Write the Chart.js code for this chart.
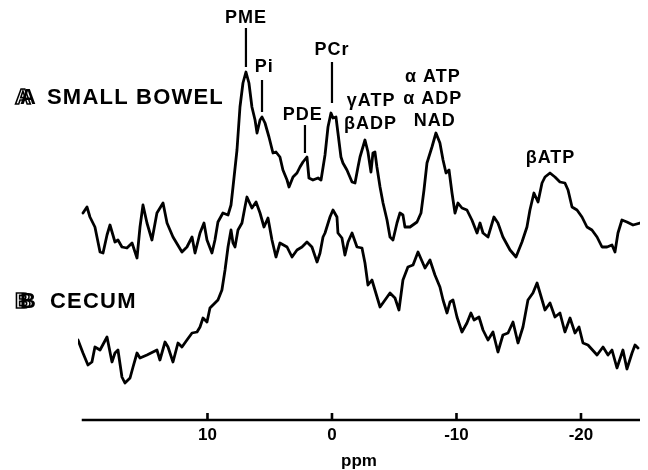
<!DOCTYPE html>
<html lang="en">
<head>
<meta charset="UTF-8">
<title>31P spectra: small bowel and cecum</title>
<script src="https://cdn.jsdelivr.net/npm/chart.js@4.4.0/dist/chart.umd.min.js"></script>
<style>
  body { margin: 0; background: #fff; }
  canvas { display: block; }
</style>
</head>
<body>
<canvas id="spectrum" width="648" height="470"></canvas>
<script>
// chemical shift (ppm) and signal height for trace A, small bowel
const ppmA = [
  20.00, 19.68, 19.44, 19.04, 18.63, 18.39, 18.07, 17.83, 17.43, 17.19,
  16.87, 16.47, 16.06, 15.66, 15.42, 15.18, 14.86, 14.46, 14.06, 13.57,
  13.25, 12.77, 12.05, 11.65, 11.24, 11.00, 10.60, 10.28, 10.04, 9.64,
  9.40, 9.16, 8.76, 8.35, 8.11, 7.95, 7.63, 7.39, 7.15, 6.91,
  6.67, 6.43, 6.18, 6.02, 5.78, 5.62, 5.38, 5.06, 4.74, 4.50,
  4.18, 3.94, 3.61, 3.45, 3.13, 2.81, 2.57, 2.33, 2.01, 1.85,
  1.53, 1.12, 0.88, 0.56, 0.32, 0.08, -0.08, -0.32, -0.48, -0.72,
  -0.88, -1.20, -1.61, -1.85, -2.09, -2.25, -2.65, -2.89, -3.13, -3.29,
  -3.45, -3.61, -3.86, -4.10, -4.42, -4.66, -4.90, -5.22, -5.46, -5.70,
  -5.86, -6.27, -6.83, -7.15, -7.39, -7.63, -8.03, -8.35, -8.67, -8.92,
  -9.16, -9.40, -9.64, -9.88, -10.12, -10.44, -10.84, -11.24, -11.65, -11.89,
  -12.13, -12.53, -13.01, -13.33, -13.73, -14.30, -14.78, -15.26, -15.66, -15.90,
  -16.22, -16.55, -16.87, -17.11, -17.51, -17.91, -18.31, -18.71, -18.96, -19.28,
  -19.68, -20.08, -20.48, -20.88, -21.29, -21.69, -22.09, -22.49, -22.73, -22.97,
  -23.29, -23.69, -24.18, -24.74
];
const smallBowel = [
  207, 213, 203, 193, 168, 167, 185, 195, 178, 180,
  173, 172, 177, 162, 193, 215, 197, 180, 207, 217,
  197, 183, 168, 173, 183, 167, 187, 197, 180, 167,
  180, 198, 207, 205, 215, 233, 270, 313, 337, 348,
  337, 313, 300, 287, 300, 303, 297, 283, 267, 268,
  263, 250, 240, 233, 243, 247, 253, 258, 263, 242,
  240, 242, 240, 265, 293, 307, 302, 303, 287, 263,
  257, 250, 238, 237, 253, 263, 280, 268, 248, 267,
  268, 253, 233, 217, 200, 183, 180, 197, 207, 205,
  193, 193, 198, 207, 230, 257, 273, 287, 277, 260,
  247, 250, 227, 207, 217, 212, 210, 200, 187, 197,
  187, 183, 203, 197, 183, 170, 163, 178, 193, 210,
  227, 218, 237, 243, 247, 243, 238, 237, 230, 213,
  210, 203, 193, 190, 183, 173, 173, 175, 168, 187,
  200, 198, 195, 197
];

// trace B, cecum
const ppmB = [
  20.40, 20.00, 19.60, 19.28, 19.04, 18.63, 18.07, 17.67, 17.43, 17.19,
  16.87, 16.63, 16.22, 15.98, 15.66, 15.42, 14.86, 14.38, 14.06, 13.82,
  13.41, 13.17, 12.77, 12.37, 12.05, 11.65, 11.24, 10.84, 10.60, 10.36,
  10.04, 9.80, 9.56, 9.16, 8.84, 8.59, 8.35, 8.11, 7.95, 7.79,
  7.55, 7.23, 6.99, 6.83, 6.43, 6.10, 5.78, 5.46, 5.14, 4.82,
  4.50, 4.18, 3.61, 3.21, 2.81, 2.41, 2.01, 1.61, 1.20, 0.96,
  0.72, 0.56, 0.16, -0.08, -0.40, -0.48, -0.80, -1.04, -1.29, -1.61,
  -2.01, -2.41, -2.65, -2.89, -3.21, -3.45, -3.86, -4.26, -4.66, -5.06,
  -5.38, -5.70, -6.10, -6.51, -6.91, -7.47, -7.87, -8.27, -8.67, -8.92,
  -9.24, -9.48, -9.72, -10.04, -10.44, -10.84, -11.16, -11.41, -11.81, -12.13,
  -12.53, -12.93, -13.33, -13.73, -14.14, -14.54, -14.94, -15.34, -15.74, -16.14,
  -16.47, -16.71, -17.11, -17.51, -17.91, -18.31, -18.71, -19.12, -19.52, -19.84,
  -20.16, -20.56, -21.29, -21.77, -22.17, -22.49, -22.89, -23.37, -23.69, -24.10,
  -24.34, -24.58
];
const cecum = [
  80, 67, 55, 58, 73, 70, 83, 58, 67, 70,
  43, 37, 42, 53, 67, 62, 65, 68, 70, 60,
  78, 73, 58, 77, 73, 80, 87, 88, 93, 102,
  98, 112, 115, 120, 130, 150, 173, 190, 177, 173,
  190, 197, 213, 223, 212, 218, 207, 193, 202, 180,
  163, 177, 173, 163, 170, 173, 178, 173, 158, 167,
  183, 187, 203, 210, 203, 187, 182, 165, 178, 187,
  173, 172, 157, 135, 140, 130, 113, 120, 127, 122,
  110, 140, 153, 155, 168, 152, 160, 145, 133, 120,
  107, 118, 120, 103, 88, 97, 107, 100, 103, 90,
  80, 88, 68, 85, 87, 98, 77, 93, 120, 127,
  137, 127, 110, 117, 103, 107, 88, 102, 87, 93,
  77, 75, 65, 73, 65, 70, 52, 70, 51, 67,
  75, 72
];

// ppm axis
const tickValues = [10, 0, -10, -20];
const axisFrom = 20.1;
const axisTo = -24.74;

// peak assignments over trace A: label lines, centre ppm, text height
const peakText = ['PME', 'Pi', 'PDE', 'PCr', 'γATP', 'βADP', 'α ATP', 'α ADP', 'NAD', 'βATP'];
const peakPpm = [6.91, 5.45, 2.35, 0.0, -3.15, -3.1, -8.1, -8.1, -8.25, -17.55];
const peakY = [402, 353, 305, 370, 319, 296, 343, 321, 299, 262];

// leader lines from label to peak
const leaderPpm = [6.91, 5.62, 2.17, 0.0];
const leaderTop = [392, 340, 295, 358];
const leaderBottom = [353, 308, 267, 317];

// trace names on the left
const traceLetters = ['A', 'B'];
const traceNames = ['SMALL BOWEL', 'CECUM'];
const traceNameY = [322, 118];

const FONT = '"Liberation Sans", Arial, sans-serif';

const annotate = {
  id: 'annotate',
  afterDatasetsDraw(chart) {
    const { ctx, scales: { x, y } } = chart;
    const y0 = y.getPixelForValue(0);
    ctx.save();
    ctx.strokeStyle = '#000';
    ctx.fillStyle = '#000';
    ctx.lineCap = 'butt';

    // baseline with short upward ticks
    ctx.lineWidth = 2.6;
    ctx.beginPath();
    ctx.moveTo(x.getPixelForValue(axisFrom), y0);
    ctx.lineTo(x.getPixelForValue(axisTo), y0);
    tickValues.forEach(v => {
      const px = x.getPixelForValue(v);
      ctx.moveTo(px, y0);
      ctx.lineTo(px, y0 - 7);
    });
    ctx.stroke();

    // leaders
    ctx.lineWidth = 2.2;
    ctx.beginPath();
    leaderPpm.forEach((v, i) => {
      const px = x.getPixelForValue(v);
      ctx.moveTo(px, y.getPixelForValue(leaderTop[i]));
      ctx.lineTo(px, y.getPixelForValue(leaderBottom[i]));
    });
    ctx.stroke();

    // peak names
    ctx.font = 'bold 18px ' + FONT;
    ctx.letterSpacing = '1px';
    ctx.textAlign = 'center';
    ctx.textBaseline = 'middle';
    peakText.forEach((t, i) => {
      ctx.fillText(t, x.getPixelForValue(peakPpm[i]), y.getPixelForValue(peakY[i]));
    });

    // trace names, letter drawn with an outlined double
    ctx.font = 'bold 22px ' + FONT;
    ctx.letterSpacing = '1.2px';
    ctx.textAlign = 'left';
    ctx.lineWidth = 1.6;
    traceNames.forEach((name, i) => {
      const py = y.getPixelForValue(traceNameY[i]);
      ctx.strokeText(traceLetters[i], 15, py);
      ctx.fillText(traceLetters[i], 20, py);
      ctx.fillText(name, i === 0 ? 47 : 50, py);
    });
    ctx.restore();
  }
};

function trace(xs, ys) {
  return xs.map((v, i) => ({ x: v, y: ys[i] }));
}

const lineStyle = {
  borderColor: '#000',
  borderWidth: 2.8,
  borderJoinStyle: 'round',
  borderCapStyle: 'round',
  pointRadius: 0,
  tension: 0,
  fill: false
};

new Chart(document.getElementById('spectrum'), {
  type: 'line',
  data: {
    datasets: [
      Object.assign({ label: 'Small bowel', data: trace(ppmA, smallBowel) }, lineStyle),
      Object.assign({ label: 'Cecum', data: trace(ppmB, cecum) }, lineStyle)
    ]
  },
  options: {
    responsive: false,
    animation: false,
    layout: { padding: { left: 78, right: 8, top: 0, bottom: 0 } },
    plugins: {
      legend: { display: false },
      tooltip: { enabled: false }
    },
    scales: {
      x: {
        type: 'linear',
        reverse: true,
        min: axisTo,
        max: 20.4,
        grid: { display: false, drawTicks: false },
        border: { display: false },
        afterBuildTicks: s => { s.ticks = tickValues.map(v => ({ value: v })); },
        afterFit: s => { s.height = 50; },
        ticks: {
          color: '#000',
          padding: 5,
          maxRotation: 0,
          autoSkip: false,
          font: { family: FONT, size: 17, weight: 'bold' },
          callback: v => String(v)
        },
        title: {
          display: true,
          text: 'ppm',
          color: '#000',
          font: { family: FONT, size: 17, weight: 'bold' },
          padding: { top: 0, bottom: -2 }
        }
      },
      y: { display: false, min: 0, max: 420 }
    }
  },
  plugins: [annotate]
});
</script>
</body>
</html>
